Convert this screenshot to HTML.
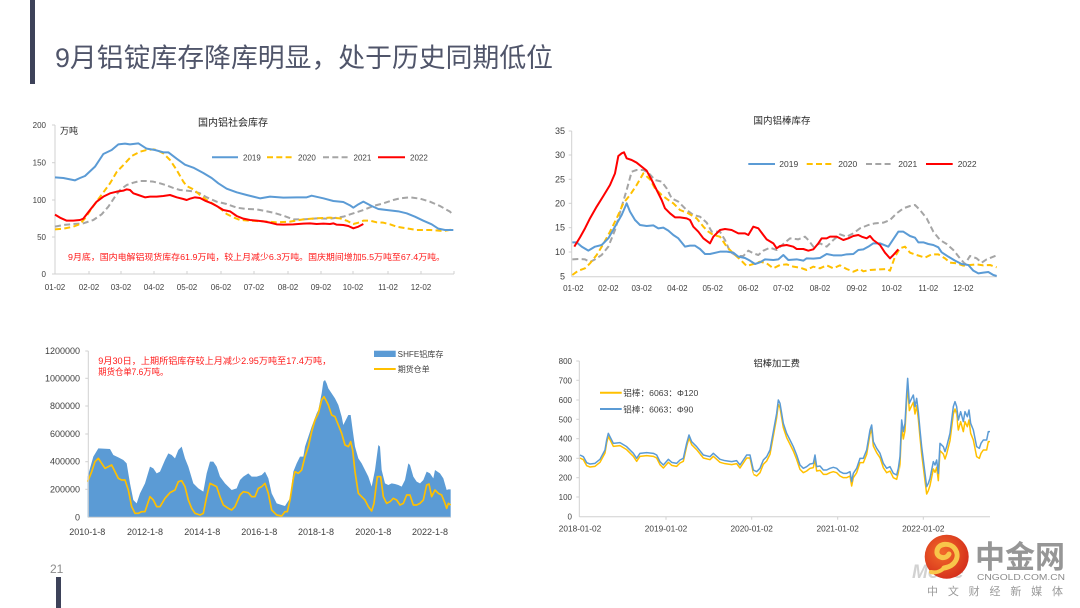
<!DOCTYPE html>
<html><head><meta charset="utf-8"><style>
html,body{margin:0;padding:0;background:#fff;}
svg{display:block;}
text{font-family:"Liberation Sans","Noto Sans CJK SC",sans-serif;}
</style></head><body>
<svg width="1080" height="608" viewBox="0 0 1080 608" xmlns="http://www.w3.org/2000/svg">
<defs>
<radialGradient id="lg" cx="0.4" cy="0.4" r="0.7"><stop offset="0" stop-color="#f26b2a"/><stop offset="1" stop-color="#d2291a"/></radialGradient>
<clipPath id="cA" clipPathUnits="userSpaceOnUse"><rect x="0" y="-200" width="640" height="1000"/></clipPath>
<clipPath id="cB" clipPathUnits="userSpaceOnUse"><rect x="640" y="-200" width="440" height="1000"/></clipPath>
<clipPath id="cC" clipPathUnits="userSpaceOnUse"><rect x="1080" y="-200" width="170" height="1000"/></clipPath>
<clipPath id="cD" clipPathUnits="userSpaceOnUse"><rect x="1250" y="-200" width="200" height="1000"/></clipPath>
<polyline id="bl" fill="none" points="120,345 130,350 140,368 150,372 165,370 180,358 195,330 200,300 205,280 210,290 220,310 240,308 260,320 280,340 290,355 300,340 320,338 340,340 350,345 360,365 370,375 385,358 395,367 410,370 420,360 430,355 440,310 447,285 455,305 470,320 490,345 510,350 520,340 540,358 555,362 575,365 590,362 600,375 610,360 620,345 630,345 640,390 650,395 660,385 670,360 680,350 690,330 700,275 710,220 715,180 720,190 730,250 740,280 750,300 760,320 770,345 780,375 790,385 800,380 810,372 820,370 825,345 830,380 840,378 850,390 860,390 870,385 880,382 890,385 900,395 910,400 920,400 930,395 935,425 940,400 950,385 960,355 970,355 980,330 990,270 995,255 1000,305 1010,325 1020,340 1030,370 1040,385 1050,380 1060,400 1070,405 1075,385 1080,350 1085,240 1090,275 1095,250 1100,160 1103,115 1108,190 1115,175 1120,165 1125,200 1130,175 1135,215 1140,270 1145,320 1150,360 1160,440 1165,430 1170,415 1180,365 1185,375 1190,360 1195,400 1200,310 1210,320 1215,335 1220,320 1230,280 1240,200 1245,185 1250,200 1255,240 1262,215 1270,245 1275,215 1282,230 1287,210 1292,250 1300,270 1310,320 1318,325 1323,310 1330,300 1340,300 1345,275 1350,275"/>
</defs>
<rect width="1080" height="608" fill="#fff"/>

<!-- header -->
<rect x="30" y="0" width="5" height="84" fill="#3d4259"/>
<text x="55" y="67" font-size="26.5" fill="#50556a" textLength="498" lengthAdjust="spacingAndGlyphs">9月铝锭库存降库明显，处于历史同期低位</text>
<text x="50" y="573" font-size="12" fill="#8c8c8c">21</text>
<rect x="56" y="577" width="5" height="31" fill="#3d4259"/>

<!-- ========== Top-left chart ========== -->
<g font-size="8" fill="#404040">
<text x="233" y="126" font-size="10" text-anchor="middle" fill="#262626">国内铝社会库存</text>
<text x="60" y="134" font-size="9" fill="#262626">万吨</text>
<g text-anchor="end">
<text x="46" y="128">200</text><text x="46" y="165.5">150</text><text x="46" y="203">100</text><text x="46" y="240">50</text><text x="46" y="277">0</text>
</g>
<g text-anchor="middle">
<text x="55" y="290">01-02</text><text x="89" y="290">02-02</text><text x="121" y="290">03-02</text><text x="154" y="290">04-02</text><text x="187" y="290">05-02</text><text x="221" y="290">06-02</text><text x="254" y="290">07-02</text><text x="288" y="290">08-02</text><text x="321" y="290">09-02</text><text x="353" y="290">10-02</text><text x="388" y="290">11-02</text><text x="421" y="290">12-02</text>
</g>
</g>
<g stroke="#d0d0d0" stroke-width="1">
<line x1="55" y1="125" x2="55" y2="274"/><line x1="55" y1="274" x2="454" y2="274"/>
<line x1="52" y1="125" x2="55" y2="125"/><line x1="52" y1="162.7" x2="55" y2="162.7"/><line x1="52" y1="200" x2="55" y2="200"/><line x1="52" y1="237" x2="55" y2="237"/><line x1="52" y1="274" x2="55" y2="274"/>
<line x1="89" y1="271" x2="89" y2="274"/><line x1="121" y1="271" x2="121" y2="274"/><line x1="154" y1="271" x2="154" y2="274"/><line x1="187" y1="271" x2="187" y2="274"/><line x1="221" y1="271" x2="221" y2="274"/><line x1="254" y1="271" x2="254" y2="274"/><line x1="288" y1="271" x2="288" y2="274"/><line x1="321" y1="271" x2="321" y2="274"/><line x1="353" y1="271" x2="353" y2="274"/><line x1="388" y1="271" x2="388" y2="274"/><line x1="421" y1="271" x2="421" y2="274"/><line x1="454" y1="271" x2="454" y2="274"/>
</g>
<g transform="translate(30,100) scale(0.33333)" fill="none" stroke-width="6" stroke-linejoin="round">
<polyline stroke="#a5a5a5" stroke-dasharray="18,10" points="75,380 100,375 130,372 160,370 190,360 215,343 235,320 255,290 270,270 290,255 310,248 330,243 350,243 370,245 390,250 410,256 430,264 450,270 470,272 490,274 510,280 530,292 560,305 590,312 620,323 650,327 680,328 700,332 730,338 760,347 790,358 820,358 860,355 900,356 940,350 970,340 1000,330 1030,318 1060,310 1090,300 1110,295 1140,292 1170,296 1200,305 1230,318 1260,335 1270,345"/>
<polyline stroke="#ffc000" stroke-dasharray="18,10" points="75,388 100,386 130,380 150,372 165,355 190,318 215,284 240,250 260,216 285,190 305,168 330,155 350,150 370,148 380,150 400,160 420,180 440,210 460,245 470,258 490,268 510,285 530,300 550,312 570,325 590,342 610,352 630,360 660,362 700,364 740,367 780,365 820,358 860,355 900,353 930,355 950,362 970,372 985,368 1000,362 1020,362 1040,367 1060,368 1080,373 1100,380 1130,385 1160,390 1200,390 1240,393 1270,388"/>
<polyline stroke="#5b9bd5" points="75,232 100,234 135,241 150,234 165,228 195,200 220,162 245,150 265,133 285,131 300,133 325,130 350,146 375,150 400,157 415,157 440,176 465,194 490,203 520,219 545,234 565,250 590,266 620,277 650,285 690,295 720,290 760,293 800,292 830,292 845,287 880,295 910,303 940,306 960,316 970,323 985,313 1000,305 1025,318 1045,327 1070,330 1105,334 1130,340 1155,350 1180,362 1205,373 1225,386 1245,390 1270,390"/>
<polyline stroke="#ff0000" points="75,344 90,353 110,362 130,362 150,360 160,356 180,330 200,305 220,290 240,280 260,275 280,272 290,268 300,270 310,280 325,285 345,292 360,290 380,290 400,288 420,285 440,292 460,297 470,300 480,296 495,292 510,294 525,302 545,310 560,318 580,330 600,334 620,348 640,356 660,360 680,362 700,364 720,368 740,373 760,374 790,373 820,371 840,370 860,372 880,371 900,372 910,370 920,374 940,375 955,378 970,385 985,380 1000,372"/>
</g>
<!-- legend TL -->
<line x1="212" y1="157.3" x2="238" y2="157.3" stroke="#5b9bd5" stroke-width="2"/>
<line x1="267" y1="157.3" x2="293" y2="157.3" stroke="#ffc000" stroke-width="2" stroke-dasharray="6,3.3"/>
<line x1="323" y1="157.3" x2="350" y2="157.3" stroke="#a5a5a5" stroke-width="2" stroke-dasharray="6,3.3"/>
<line x1="378" y1="157.3" x2="405" y2="157.3" stroke="#ff0000" stroke-width="2"/>
<g font-size="8" fill="#404040">
<text x="243" y="160.3">2019</text><text x="298" y="160.3">2020</text><text x="353.5" y="160.3">2021</text><text x="410" y="160.3">2022</text>
</g>
<text x="68" y="260" font-size="8.7" fill="#ff1a1a" textLength="377" lengthAdjust="spacingAndGlyphs">9月底，国内电解铝现货库存61.9万吨，较上月减少6.3万吨。国庆期间增加5.5万吨至67.4万吨。</text>

<!-- ========== Top-right chart ========== -->
<text x="782" y="124" font-size="9.5" text-anchor="middle" fill="#262626">国内铝棒库存</text>
<g font-size="9" fill="#404040" text-anchor="end">
<text x="565" y="134">35</text><text x="565" y="158">30</text><text x="565" y="182.3">25</text><text x="565" y="206.3">20</text><text x="565" y="230.7">15</text><text x="565" y="255">10</text><text x="565" y="279.7">5</text>
</g>
<g font-size="8" fill="#404040" text-anchor="middle">
<text x="573.3" y="291">01-02</text><text x="608.3" y="291">02-02</text><text x="641.7" y="291">03-02</text><text x="677.3" y="291">04-02</text><text x="712.7" y="291">05-02</text><text x="748.3" y="291">06-02</text><text x="783.3" y="291">07-02</text><text x="820" y="291">08-02</text><text x="856.7" y="291">09-02</text><text x="891.7" y="291">10-02</text><text x="928.3" y="291">11-02</text><text x="963.3" y="291">12-02</text>
</g>
<g stroke="#d0d0d0" stroke-width="1">
<line x1="571.7" y1="131" x2="571.7" y2="276.7"/><line x1="571.7" y1="276.7" x2="997" y2="276.7"/>
<line x1="568.7" y1="131" x2="571.7" y2="131"/><line x1="568.7" y1="155" x2="571.7" y2="155"/><line x1="568.7" y1="179.3" x2="571.7" y2="179.3"/><line x1="568.7" y1="203.3" x2="571.7" y2="203.3"/><line x1="568.7" y1="227.7" x2="571.7" y2="227.7"/><line x1="568.7" y1="252" x2="571.7" y2="252"/>
</g>
<g transform="translate(540,100) scale(0.33333)" fill="none" stroke-width="6" stroke-linejoin="round">
<polyline stroke="#a5a5a5" stroke-dasharray="18,10" points="97,478 115,477 135,478 150,486 165,478 185,465 205,440 225,390 245,320 260,270 275,215 290,210 310,210 325,218 345,240 365,245 380,265 395,295 415,305 440,330 460,345 480,350 500,368 515,395 540,395 555,420 570,455 590,468 610,468 625,452 640,460 655,465 670,452 690,443 710,450 730,432 750,415 775,418 795,410 805,420 820,440 840,430 860,440 880,420 900,403 920,410 940,400 960,385 985,375 1005,370 1030,368 1050,360 1070,340 1090,325 1110,318 1125,315 1140,330 1160,355 1180,395 1200,420 1220,432 1240,450 1260,475 1275,492 1290,468 1310,475 1325,488 1340,478 1360,470 1370,466"/>
<polyline stroke="#ffc000" stroke-dasharray="18,10" points="97,525 115,512 135,505 150,490 170,465 190,432 210,395 230,355 250,310 270,285 290,255 310,220 330,238 345,265 365,285 385,300 400,310 420,330 445,340 470,355 490,380 505,395 520,405 540,410 560,440 580,460 600,478 620,498 640,492 660,485 680,490 700,505 720,495 740,493 760,500 780,503 800,510 820,500 840,505 860,496 880,505 900,496 920,507 940,515 960,507 970,514 990,510 1020,508 1040,507 1050,512 1065,470 1080,445 1095,440 1110,458 1130,465 1155,473 1175,463 1195,463 1215,475 1230,488 1250,490 1270,497 1290,495 1310,493 1330,496 1350,495 1370,502"/>
<polyline stroke="#5b9bd5" points="97,427 110,427 125,440 145,452 165,440 185,435 205,415 225,380 245,345 260,310 270,335 285,360 300,375 320,378 340,376 355,385 370,383 385,392 400,405 415,415 435,440 450,437 465,437 480,447 495,462 510,462 540,455 560,455 580,458 595,470 615,474 630,482 645,492 660,487 675,478 700,480 715,478 730,465 745,480 770,478 790,482 800,475 820,476 840,474 860,462 880,466 905,466 920,463 940,462 955,450 970,448 985,440 1000,430 1020,430 1045,440 1055,425 1075,395 1090,395 1110,408 1125,413 1135,427 1150,427 1165,432 1180,435 1195,442 1205,457 1225,470 1245,482 1265,492 1285,495 1300,512 1315,520 1330,518 1345,516 1360,525 1370,528"/>
<polyline stroke="#ff0000" points="103,440 120,412 135,385 150,355 170,320 190,288 210,255 225,220 235,168 245,160 252,157 260,175 275,180 290,188 305,200 320,212 335,240 350,270 365,300 375,325 390,340 405,352 420,352 440,355 450,360 460,380 475,395 490,415 510,430 520,410 540,390 555,387 575,390 595,400 615,400 625,405 640,380 655,385 670,405 680,418 700,430 710,445 720,438 740,435 760,440 770,447 790,447 805,452 820,448 835,430 845,415 860,415 870,410 890,410 910,420 925,415 940,408 955,405 965,410 980,415 990,408 1000,420 1020,435 1035,458 1050,475 1060,465 1075,448"/>
</g>
<line x1="748.3" y1="164" x2="775" y2="164" stroke="#5b9bd5" stroke-width="2"/>
<line x1="806.7" y1="164" x2="833.3" y2="164" stroke="#ffc000" stroke-width="2" stroke-dasharray="6,3.3"/>
<line x1="866" y1="164" x2="892.7" y2="164" stroke="#a5a5a5" stroke-width="2" stroke-dasharray="6,3.3"/>
<line x1="926" y1="164" x2="952.7" y2="164" stroke="#ff0000" stroke-width="2"/>
<g font-size="8.5" fill="#404040">
<text x="779.3" y="167">2019</text><text x="838.3" y="167">2020</text><text x="898.3" y="167">2021</text><text x="957.7" y="167">2022</text>
</g>

<!-- ========== Bottom-left chart ========== -->
<g font-size="9" fill="#404040" text-anchor="end">
<text x="80" y="354">1200000</text><text x="80" y="381.3">1000000</text><text x="80" y="409">800000</text><text x="80" y="437">600000</text><text x="80" y="464.7">400000</text><text x="80" y="492.3">200000</text><text x="80" y="520.3">0</text>
</g>
<g font-size="9" fill="#404040" text-anchor="middle">
<text x="87.3" y="535">2010-1-8</text><text x="145" y="535">2012-1-8</text><text x="202.3" y="535">2014-1-8</text><text x="259.3" y="535">2016-1-8</text><text x="316" y="535">2018-1-8</text><text x="373.3" y="535">2020-1-8</text><text x="430" y="535">2022-1-8</text>
</g>
<g transform="translate(30,330) scale(0.33333)" stroke-linejoin="round">
<polygon fill="#5b9bd5" points="173,440 180,415 190,380 205,355 240,357 250,375 265,382 280,390 290,400 300,460 310,510 320,520 330,490 345,460 360,410 370,415 380,430 390,425 405,390 415,370 425,375 435,385 445,360 455,350 465,385 475,410 490,460 505,475 520,485 530,430 540,395 550,395 560,410 570,440 585,460 605,480 620,475 630,450 640,440 655,430 665,440 680,440 695,435 705,425 715,445 725,490 735,510 740,520 755,525 765,528 770,520 780,505 790,425 800,400 810,380 820,380 825,350 835,320 845,290 860,250 865,240 875,190 880,155 885,150 890,160 895,175 905,190 915,205 925,225 935,260 940,285 945,275 955,255 962,255 968,300 975,350 985,385 995,400 1005,420 1015,440 1025,470 1035,420 1045,345 1050,350 1055,420 1065,460 1075,465 1085,460 1095,462 1105,465 1115,470 1125,450 1135,400 1140,405 1150,440 1160,455 1170,460 1180,450 1190,425 1200,430 1210,445 1215,420 1230,430 1240,445 1250,480 1255,478 1262,478 1262,562 173,562"/>
<polyline fill="none" stroke="#ffc000" stroke-width="5" points="173,455 185,425 195,395 205,385 215,400 225,415 235,410 245,405 255,425 265,445 275,450 285,450 295,480 305,530 315,550 325,550 335,545 345,545 355,515 360,500 370,510 380,530 390,530 405,505 420,488 435,480 445,455 455,452 465,470 475,510 485,535 495,550 510,555 520,550 530,500 540,460 550,465 560,470 570,500 580,525 595,535 605,540 615,530 630,495 640,485 655,488 665,500 675,500 685,475 695,470 705,460 715,490 725,540 735,550 740,555 755,558 765,545 772,545 780,510 790,445 795,425 805,430 815,420 825,380 835,350 845,305 855,270 865,250 875,210 882,200 890,215 895,225 905,255 915,260 925,285 935,310 945,345 955,350 962,335 968,360 975,425 985,490 995,500 1005,510 1015,530 1025,543 1032,520 1042,440 1052,440 1060,500 1070,520 1080,515 1090,505 1100,510 1110,525 1120,520 1130,495 1140,495 1150,525 1160,525 1170,520 1180,510 1190,465 1197,462 1205,500 1215,480 1225,490 1235,495 1245,520 1250,535 1255,520 1262,525"/>
</g>
<g stroke="#d0d0d0" stroke-width="1">
<line x1="88.3" y1="351" x2="88.3" y2="517.3"/><line x1="88.3" y1="517.3" x2="451" y2="517.3"/>
<line x1="85.3" y1="351" x2="88.3" y2="351"/><line x1="85.3" y1="378.3" x2="88.3" y2="378.3"/><line x1="85.3" y1="406" x2="88.3" y2="406"/><line x1="85.3" y1="434" x2="88.3" y2="434"/><line x1="85.3" y1="461.7" x2="88.3" y2="461.7"/><line x1="85.3" y1="489.3" x2="88.3" y2="489.3"/>
</g>
<rect x="374" y="350.7" width="21.7" height="6.3" fill="#5b9bd5"/>
<line x1="374" y1="369" x2="395.7" y2="369" stroke="#ffc000" stroke-width="2"/>
<g font-size="8" fill="#404040">
<text x="397.7" y="357" textLength="45.7" lengthAdjust="spacingAndGlyphs">SHFE铝库存</text>
<text x="397.7" y="372">期货仓单</text>
</g>
<g font-size="9" fill="#ff1a1a">
<text x="98.3" y="364" textLength="233" lengthAdjust="spacingAndGlyphs">9月30日，上期所铝库存较上月减少2.95万吨至17.4万吨，</text>
<text x="98.3" y="375" textLength="70" lengthAdjust="spacingAndGlyphs">期货仓单7.6万吨。</text>
</g>

<!-- ========== Bottom-right chart ========== -->
<text x="776.7" y="366.5" font-size="9.3" text-anchor="middle" fill="#262626">铝棒加工费</text>
<g font-size="8" fill="#404040" text-anchor="end">
<text x="572" y="364">800</text><text x="572" y="383.3">700</text><text x="572" y="403">600</text><text x="572" y="422.3">500</text><text x="572" y="441.7">400</text><text x="572" y="461.3">300</text><text x="572" y="480.7">200</text><text x="572" y="500">100</text><text x="572" y="519.7">0</text>
</g>
<g font-size="8.3" fill="#404040" text-anchor="middle">
<text x="580" y="531.5">2018-01-02</text><text x="666" y="531.5">2019-01-02</text><text x="751.7" y="531.5">2020-01-02</text><text x="837.7" y="531.5">2021-01-02</text><text x="923.3" y="531.5">2022-01-02</text>
</g>
<g stroke="#d0d0d0" stroke-width="1">
<line x1="579.3" y1="361" x2="579.3" y2="516.7"/><line x1="579.3" y1="516.7" x2="990" y2="516.7"/>
<line x1="576.3" y1="361" x2="579.3" y2="361"/><line x1="576.3" y1="380.3" x2="579.3" y2="380.3"/><line x1="576.3" y1="400" x2="579.3" y2="400"/><line x1="576.3" y1="419.3" x2="579.3" y2="419.3"/><line x1="576.3" y1="438.7" x2="579.3" y2="438.7"/><line x1="576.3" y1="458.3" x2="579.3" y2="458.3"/><line x1="576.3" y1="477.7" x2="579.3" y2="477.7"/><line x1="576.3" y1="497" x2="579.3" y2="497"/>
<line x1="666" y1="516.7" x2="666" y2="519.7"/><line x1="751.7" y1="516.7" x2="751.7" y2="519.7"/><line x1="837.7" y1="516.7" x2="837.7" y2="519.7"/><line x1="923.3" y1="516.7" x2="923.3" y2="519.7"/>
</g>
<g transform="translate(540,340) scale(0.33333)" fill="none" stroke-width="4.5" stroke-linejoin="round">
<use href="#bl" stroke="#ffc000" transform="translate(0,9)" clip-path="url(#cA)"/>
<use href="#bl" stroke="#ffc000" transform="translate(0,13)" clip-path="url(#cB)"/>
<use href="#bl" stroke="#ffc000" transform="translate(0,22)" clip-path="url(#cC)"/>
<use href="#bl" stroke="#ffc000" transform="translate(0,30)" clip-path="url(#cD)"/>
<use href="#bl" stroke="#5b9bd5"/>
</g>
<line x1="600" y1="392.7" x2="621.7" y2="392.7" stroke="#ffc000" stroke-width="2"/>
<line x1="600" y1="409" x2="621.7" y2="409" stroke="#5b9bd5" stroke-width="2"/>
<g font-size="8.6" fill="#404040">
<text x="623.3" y="396" textLength="75" lengthAdjust="spacingAndGlyphs">铝棒：6063：Φ120</text>
<text x="623.3" y="412.3" textLength="70" lengthAdjust="spacingAndGlyphs">铝棒：6063：Φ90</text>
</g>

<!-- ========== Logo ========== -->
<text x="912" y="578" font-size="19" font-weight="bold" font-style="italic" fill="#d2d2d2">MoKe</text>
<circle cx="946.7" cy="556.7" r="22" fill="url(#lg)"/>
<path d="M944 568 C 956 566, 960 556, 955 549 C 950 542, 938 543, 937 551 C 936 558, 946 560, 949 554" fill="none" stroke="#f8c64a" stroke-width="5" stroke-linecap="round"/>
<path d="M944 568 C 940 572, 935 573, 931 572" fill="none" stroke="#f8c64a" stroke-width="4" stroke-linecap="round"/>
<text x="975" y="568" font-size="31" font-weight="bold" fill="#969696" textLength="90" lengthAdjust="spacingAndGlyphs">中金网</text>
<text x="977" y="580" font-size="8" fill="#8a8a8a" textLength="88" lengthAdjust="spacingAndGlyphs">CNGOLD.COM.CN</text>
<text x="927" y="595" font-size="11" fill="#9a9a9a" textLength="136" lengthAdjust="spacing">中文财经新媒体</text>
</svg>
</body></html>
